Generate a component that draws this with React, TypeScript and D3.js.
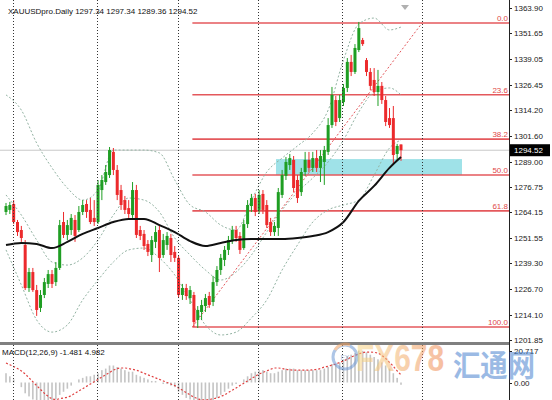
import React from "react";
import * as d3 from "d3";

const W = 552;
const H = 400;

const header = "XAUUSDpro.Daily  1297.34 1297.34 1289.36 1294.52";
const lastPrice = 1294.52;
const lastPriceLabel = "1294.52";
const macdLabel = "MACD(12,26,9) -1.481 4.982";

const priceTicks = [1363.9, 1351.65, 1339.05, 1326.45, 1314.2, 1301.6, 1289.0, 1276.75, 1264.15, 1251.55, 1239.3, 1226.7, 1214.1, 1201.85];
const macdTickValues = [20.717, 0];
const macdTickLabels = ["20.717", "0.00"];

// [open, high, low, close]
const ohlc: [number, number, number, number][] = [
  [1264.4, 1268.8, 1262.9, 1267.3], [1265.4, 1269.3, 1263.4, 1267.8], [1268.3, 1270.2, 1258.5, 1259.5], [1259.5, 1260.5, 1252.7, 1254.6],
  [1255.6, 1257.6, 1249.8, 1251.7], [1248.3, 1250.7, 1226.3, 1227.3], [1227.3, 1237.1, 1225.4, 1235.1], [1235.1, 1237.1, 1225.4, 1226.3],
  [1226.3, 1228.8, 1213.7, 1216.6], [1217.6, 1226.3, 1215.6, 1223.9], [1223.9, 1232.2, 1222.4, 1230.2], [1229.3, 1236.1, 1227.3, 1234.1],
  [1234.1, 1236.1, 1227.3, 1229.3], [1230.2, 1240.0, 1228.3, 1237.1], [1237.1, 1260.5, 1236.1, 1258.0], [1259.5, 1264.4, 1251.7, 1253.2],
  [1253.2, 1260.5, 1250.7, 1258.0], [1255.6, 1263.4, 1253.2, 1261.5], [1260.5, 1262.9, 1249.8, 1252.7], [1255.6, 1267.3, 1254.6, 1264.4],
  [1264.4, 1270.2, 1262.9, 1267.8], [1268.3, 1270.2, 1261.5, 1264.4], [1265.4, 1271.2, 1258.5, 1259.5], [1261.5, 1270.2, 1257.6, 1259.5],
  [1259.5, 1280.0, 1258.5, 1277.6], [1275.1, 1282.4, 1270.2, 1280.0], [1279.0, 1287.3, 1277.6, 1283.9], [1282.4, 1296.1, 1281.0, 1294.6],
  [1293.7, 1295.6, 1282.4, 1284.9], [1284.9, 1287.3, 1270.2, 1272.7], [1275.1, 1277.6, 1265.4, 1267.8], [1270.2, 1272.2, 1263.4, 1265.4],
  [1266.3, 1270.2, 1261.5, 1263.4], [1262.9, 1279.0, 1261.5, 1275.1], [1275.1, 1277.6, 1251.7, 1253.2], [1255.6, 1257.6, 1250.7, 1252.7],
  [1253.7, 1255.6, 1245.9, 1247.8], [1248.8, 1250.7, 1242.9, 1244.9], [1243.4, 1252.7, 1240.0, 1250.7], [1249.8, 1257.6, 1246.8, 1254.6],
  [1255.6, 1257.6, 1235.1, 1242.0], [1243.4, 1253.7, 1242.0, 1250.7], [1248.3, 1254.6, 1245.9, 1252.7], [1251.7, 1253.7, 1240.0, 1243.4],
  [1244.9, 1247.8, 1240.0, 1242.0], [1242.0, 1243.4, 1222.4, 1223.9], [1223.9, 1229.3, 1221.5, 1227.3], [1227.3, 1229.3, 1221.5, 1223.4],
  [1222.4, 1228.3, 1219.5, 1226.3], [1223.9, 1225.4, 1208.3, 1210.7], [1211.7, 1218.5, 1207.8, 1216.6], [1215.6, 1221.5, 1211.7, 1219.0],
  [1218.5, 1224.4, 1215.6, 1222.4], [1223.4, 1225.4, 1217.6, 1219.0], [1220.5, 1233.2, 1218.5, 1230.2], [1230.2, 1238.0, 1228.3, 1236.1],
  [1236.1, 1243.9, 1233.7, 1242.0], [1241.0, 1247.8, 1238.0, 1245.9], [1245.9, 1252.7, 1243.4, 1250.7], [1250.7, 1257.6, 1248.8, 1255.6],
  [1255.6, 1257.6, 1249.8, 1251.7], [1252.7, 1254.6, 1243.9, 1245.9], [1246.8, 1260.5, 1245.9, 1258.5], [1258.5, 1270.2, 1256.6, 1267.8],
  [1267.3, 1273.2, 1264.4, 1271.2], [1271.2, 1273.2, 1262.4, 1264.4], [1265.4, 1275.1, 1263.4, 1272.7], [1273.2, 1275.1, 1263.4, 1265.4],
  [1267.8, 1270.2, 1256.6, 1258.0], [1259.5, 1261.5, 1252.7, 1254.6], [1254.6, 1259.5, 1252.7, 1257.6], [1256.6, 1276.1, 1252.7, 1274.1],
  [1272.7, 1284.9, 1271.2, 1282.4], [1282.0, 1291.2, 1280.0, 1288.8], [1287.3, 1292.7, 1284.9, 1290.7], [1289.8, 1291.7, 1274.1, 1276.1],
  [1280.0, 1282.4, 1268.8, 1271.2], [1274.1, 1285.9, 1272.2, 1283.9], [1283.9, 1293.7, 1282.0, 1289.8], [1289.8, 1293.7, 1283.9, 1285.9],
  [1285.9, 1293.7, 1283.9, 1290.7], [1290.7, 1294.6, 1283.9, 1285.9], [1285.9, 1294.6, 1279.0, 1291.7], [1288.8, 1296.6, 1277.6, 1294.6],
  [1293.7, 1310.2, 1292.2, 1306.8], [1306.8, 1325.4, 1305.4, 1321.5], [1319.0, 1321.0, 1306.3, 1308.3], [1310.2, 1321.5, 1308.3, 1319.0],
  [1318.0, 1326.8, 1316.1, 1324.9], [1324.9, 1339.5, 1322.9, 1337.6], [1337.6, 1341.0, 1330.7, 1332.7], [1332.7, 1346.3, 1331.7, 1344.4],
  [1343.4, 1357.1, 1342.4, 1354.1], [1348.3, 1349.3, 1345.4, 1346.3], [1338.5, 1339.5, 1330.7, 1332.7], [1332.7, 1334.6, 1323.9, 1325.9],
  [1328.8, 1334.6, 1321.0, 1322.9], [1322.9, 1333.7, 1316.1, 1325.9], [1325.9, 1327.8, 1317.1, 1319.0], [1319.0, 1321.0, 1306.3, 1308.3],
  [1310.2, 1315.1, 1305.4, 1306.8], [1310.2, 1316.1, 1287.3, 1292.2], [1292.7, 1297.6, 1289.8, 1296.6], [1297.34, 1297.34, 1289.36, 1294.52],
];

// sampled indicator lines (bar index -> value)
const lineIdx = [0, 4, 8, 12, 16, 20, 24, 28, 32, 36, 40, 44, 48, 52, 56, 60, 64, 68, 72, 76, 80, 84, 88, 92, 96, 100, 103];
const maValues = [1248.3, 1249.3, 1248.8, 1246.8, 1249.8, 1253.7, 1256.6, 1259.5, 1261.0, 1261.0, 1258.0, 1254.6, 1250.2, 1247.8, 1249.3, 1250.7, 1251.2, 1251.2, 1251.2, 1251.7, 1252.7, 1254.6, 1259.5, 1269.8, 1277.1, 1285.9, 1291.2];
const bbUpper = [1321.5, 1314.1, 1298.0, 1285.9, 1276.1, 1270.2, 1275.1, 1294.6, 1294.6, 1294.6, 1293.2, 1280.0, 1267.8, 1264.4, 1258.0, 1255.6, 1270.2, 1283.9, 1290.7, 1296.6, 1302.9, 1314.1, 1338.5, 1356.1, 1359.0, 1353.2, 1354.6];
const bbMiddle = [1272.7, 1262.9, 1250.7, 1240.0, 1238.5, 1242.0, 1250.7, 1262.9, 1271.2, 1270.2, 1264.4, 1251.7, 1243.4, 1236.1, 1231.2, 1235.1, 1243.4, 1254.6, 1265.4, 1274.1, 1281.0, 1288.8, 1299.5, 1313.2, 1322.9, 1324.9, 1321.5];
const bbLower = [1245.9, 1228.8, 1211.7, 1205.8, 1209.3, 1221.5, 1231.2, 1240.0, 1245.9, 1246.8, 1242.0, 1233.7, 1221.5, 1209.3, 1204.4, 1205.8, 1212.7, 1221.5, 1236.1, 1248.3, 1259.5, 1265.4, 1267.8, 1270.2, 1282.4, 1295.6, 1299.5];

const macdMain = [
  6, 4, 2, 0, -3, -7, -9, -11, -13, -14, -14, -13, -12, -11, -8, -6, -4, -2, 0, 2, 3, 4, 4, 5,
  6, 8, 9, 11, 11, 10, 9, 8, 7, 7, 5, 4, 3, 2, 1, 1, 0, -1, -1, -2, -3,
  -6, -8, -10, -11, -14, -15, -16, -15, -14, -12, -10, -8, -6, -4, -2, -1, 0, 2,
  4, 6, 7, 8, 8, 7, 6, 6, 7, 8, 9, 9, 9, 8, 8, 8, 8, 8, 8, 8, 9,
  10, 12, 12, 13, 15, 17, 18, 19, 20.717, 20.5, 19.5, 18, 16.5, 15, 13, 11, 9, 6, 3, -1.481,
];
const macdSignal = [
  12.6, 11.5, 10.3, 9, 7.5, 5.5, 3, 0.5, -2, -4.5, -7, -9, -10.5, -11, -10.5, -10, -9.5, -8.5, -7, -5.5, -4, -2.5, -1, 0.5,
  2, 3.5, 5, 6.5, 8, 9, 9.4, 9.4, 9, 8.5, 8, 7, 6, 5, 4, 3, 2, 1, 0, -1, -2,
  -3.5, -5, -6.5, -8, -9.5, -10.5, -11.3, -11.3, -11, -10.5, -10, -9, -8, -6.5, -5, -3.5, -2, -0.5,
  1, 2.5, 4, 5.5, 6.5, 7.5, 8.5, 9.4, 9.4, 9, 8.5, 8.2, 8, 8, 8, 8, 8, 8.2, 8.5, 9, 10,
  10.5, 11.3, 12, 13, 14, 15, 16.5, 17.5, 18.5, 19.3, 19.7, 19.7, 19.5, 19, 17.5, 15.5, 13, 10.5, 7.5, 4.982,
];

// period separators (bar index positions)
const periodSeps = [1.8, 23.7, 44.9, 65.7, 87.6, 108.5];

// Fibonacci retracement
const fibLevels = [0, 23.6, 38.2, 50, 61.8, 100];
const fibLabels = ["0.0", "23.6", "38.2", "50.0", "61.8", "100.0"];
const fibHigh = 1356.6;
const fibLow = 1208.3;
const fibStartIdx = 48.6;
// trend line (red dotted) [index, price]
const trendLine: [number, number][] = [[48.6, 1208.3], [108.5, 1356.6]];
// support zone
const zoneIdx = [70.4, 118.9];
const zonePrice = [1282.4, 1290.2];

const FONT = "'Liberation Sans', Tahoma, Arial, sans-serif";

export default function App() {
  const axisX = 509;
  const x = d3.scaleLinear().domain([0, ohlc.length - 1]).range([6, 401]);
  const y = d3.scaleLinear().domain([1201.85, 1363.9]).range([340.2, 8]);
  const ym = d3.scaleLinear().domain([0, 20.717]).range([382.5, 350.5]);

  const smooth = (vals: number[]) =>
    d3.line<number>().x((_, i) => x(lineIdx[i])).y((v) => y(v)).curve(d3.curveMonotoneX)(vals) || "";

  const signalPath =
    d3.line<number>().x((_, i) => x(i)).y((v) => ym(v)).curve(d3.curveMonotoneX)(macdSignal) || "";

  const green = "#1f9e23";
  const red = "#ec2a2c";
  const fibColor = "#e4585c";
  const bandColor = "#93b3a3";

  return (
    <svg width={W} height={H} style={{ position: "absolute", left: 0, top: 0, background: "#fff" }} fontFamily={FONT}>
      <defs>
        <clipPath id="main">
          <rect x={0} y={0} width={axisX} height={342} />
        </clipPath>
        <clipPath id="sub">
          <rect x={0} y={345} width={axisX} height={55} />
        </clipPath>
        <linearGradient id="fxg" x1="0" x2="1" y1="0" y2="0">
          <stop offset="0" stopColor="#f7d98a" />
          <stop offset="1" stopColor="#f08a55" />
        </linearGradient>
      </defs>
      <rect x={0} y={0} width={W} height={H} fill="#fff" />

      {/* main panel */}
      <g clipPath="url(#main)">
        {/* zone */}
        <rect x={x(zoneIdx[0])} width={x(zoneIdx[1]) - x(zoneIdx[0])} y={y(zonePrice[1])} height={y(zonePrice[0]) - y(zonePrice[1])} fill="#9fe2e8" />
        {/* current price line */}
        <line x1={0} x2={axisX} y1={y(lastPrice)} y2={y(lastPrice)} stroke="#c8c8c8" strokeWidth={1} />
        {/* fib levels */}
        {fibLevels.map((lv, i) => {
          const p = fibHigh - (fibHigh - fibLow) * lv / 100;
          return (
            <g key={"f" + i}>
              <line x1={x(fibStartIdx)} x2={axisX} y1={y(p)} y2={y(p)} stroke={fibColor} strokeWidth={1.6} />
              <text x={axisX - 1} y={y(p) - 2} fontSize={8} fill="#e04848" textAnchor="end">{fibLabels[i]}</text>
            </g>
          );
        })}
        {/* bands */}
        {[bbUpper, bbMiddle, bbLower].map((b, i) => (
          <path key={"b" + i} d={smooth(b)} fill="none" stroke={bandColor} strokeWidth={1} strokeDasharray="2,2" />
        ))}
        {/* trend line */}
        <line x1={x(trendLine[0][0])} y1={y(trendLine[0][1])} x2={x(trendLine[1][0])} y2={y(trendLine[1][1])} stroke="#e4585c" strokeWidth={1} strokeDasharray="2,2" />
        {/* candles */}
        {ohlc.map(([o, h, l, c], i) => {
          const col = c >= o ? green : red;
          const top = y(Math.max(o, c));
          const bot = y(Math.min(o, c));
          return (
            <g key={"c" + i}>
              <line x1={x(i)} x2={x(i)} y1={y(h)} y2={y(l)} stroke={col} strokeWidth={1} />
              <rect x={x(i) - 1.5} width={3} y={top} height={Math.max(1, bot - top)} fill={col} />
            </g>
          );
        })}
        {/* moving average */}
        <path d={smooth(maValues)} fill="none" stroke="#111" strokeWidth={2} />
      </g>

      {/* MACD panel */}
      <g clipPath="url(#sub)">
        {macdMain.map((v, i) => (
          <rect key={"m" + i} x={x(i) - 0.8} width={1.6} y={Math.min(ym(v), ym(0))} height={Math.abs(ym(v) - ym(0))} fill="#c4c4c4" />
        ))}
        <path d={signalPath} fill="none" stroke="#e04040" strokeWidth={1.2} strokeDasharray="2,2" />
      </g>

      {/* period separators */}
      {periodSeps.map((s, i) => (
        <line key={"s" + i} x1={Math.round(x(s)) + 0.5} x2={Math.round(x(s)) + 0.5} y1={0} y2={H} stroke="#333" strokeWidth={1} strokeDasharray="1,2" />
      ))}

      {/* panel separator */}
      <rect x={0} y={342} width={axisX} height={3} fill="#808080" />

      {/* header */}
      <text x={8} y={14} fontSize={8} fill="#111">{header}</text>
      <path d="M401,5 L409,5 L405,10 Z" fill="#b0b0b0" />
      <text x={2} y={355} fontSize={8} fill="#111">{macdLabel}</text>

      {/* right axis */}
      <line x1={axisX + 0.5} x2={axisX + 0.5} y1={0} y2={H} stroke="#222" strokeWidth={1} />
      {priceTicks.map((t) => (
        <g key={"t" + t}>
          <line x1={axisX} x2={axisX + 3} y1={Math.round(y(t)) + 0.5} y2={Math.round(y(t)) + 0.5} stroke="#222" />
          <text x={axisX + 5} y={y(t) + 3} fontSize={8} fill="#222">{t.toFixed(2)}</text>
        </g>
      ))}
      {macdTickValues.map((t, i) => (
        <g key={"mt" + i}>
          <line x1={axisX} x2={axisX + 3} y1={Math.round(ym(t)) + 0.5} y2={Math.round(ym(t)) + 0.5} stroke="#222" />
          <text x={axisX + 5} y={ym(t) + 3} fontSize={8} fill="#222">{macdTickLabels[i]}</text>
        </g>
      ))}
      <rect x={axisX + 1} y={y(lastPrice) - 6} width={40} height={12} fill="#000" />
      <text x={axisX + 5} y={y(lastPrice) + 3} fontSize={8} fill="#fff">{lastPriceLabel}</text>

      {/* watermark */}
      <g opacity={0.55}>
        <circle cx={345} cy={357} r={12} fill="none" stroke="#6c98d4" strokeWidth={3} />
        <path d="M335,350 A12,12 0 0 1 350,345" fill="none" stroke="#f0a060" strokeWidth={3} />
        <text x={345} y={360} fontSize={7} textAnchor="middle" fill="#7090c0">FX</text>
        <text x={356} y={371} fontSize={36} fontWeight="bold" fill="url(#fxg)" textLength={88} lengthAdjust="spacingAndGlyphs">FX678</text>
        <text x={453} y={376} fontSize={30} fontWeight="bold" fill="#4a82cf" fontFamily="'Noto Sans CJK SC', sans-serif" textLength={82} lengthAdjust="spacingAndGlyphs">汇通网</text>
      </g>
    </svg>
  );
}
